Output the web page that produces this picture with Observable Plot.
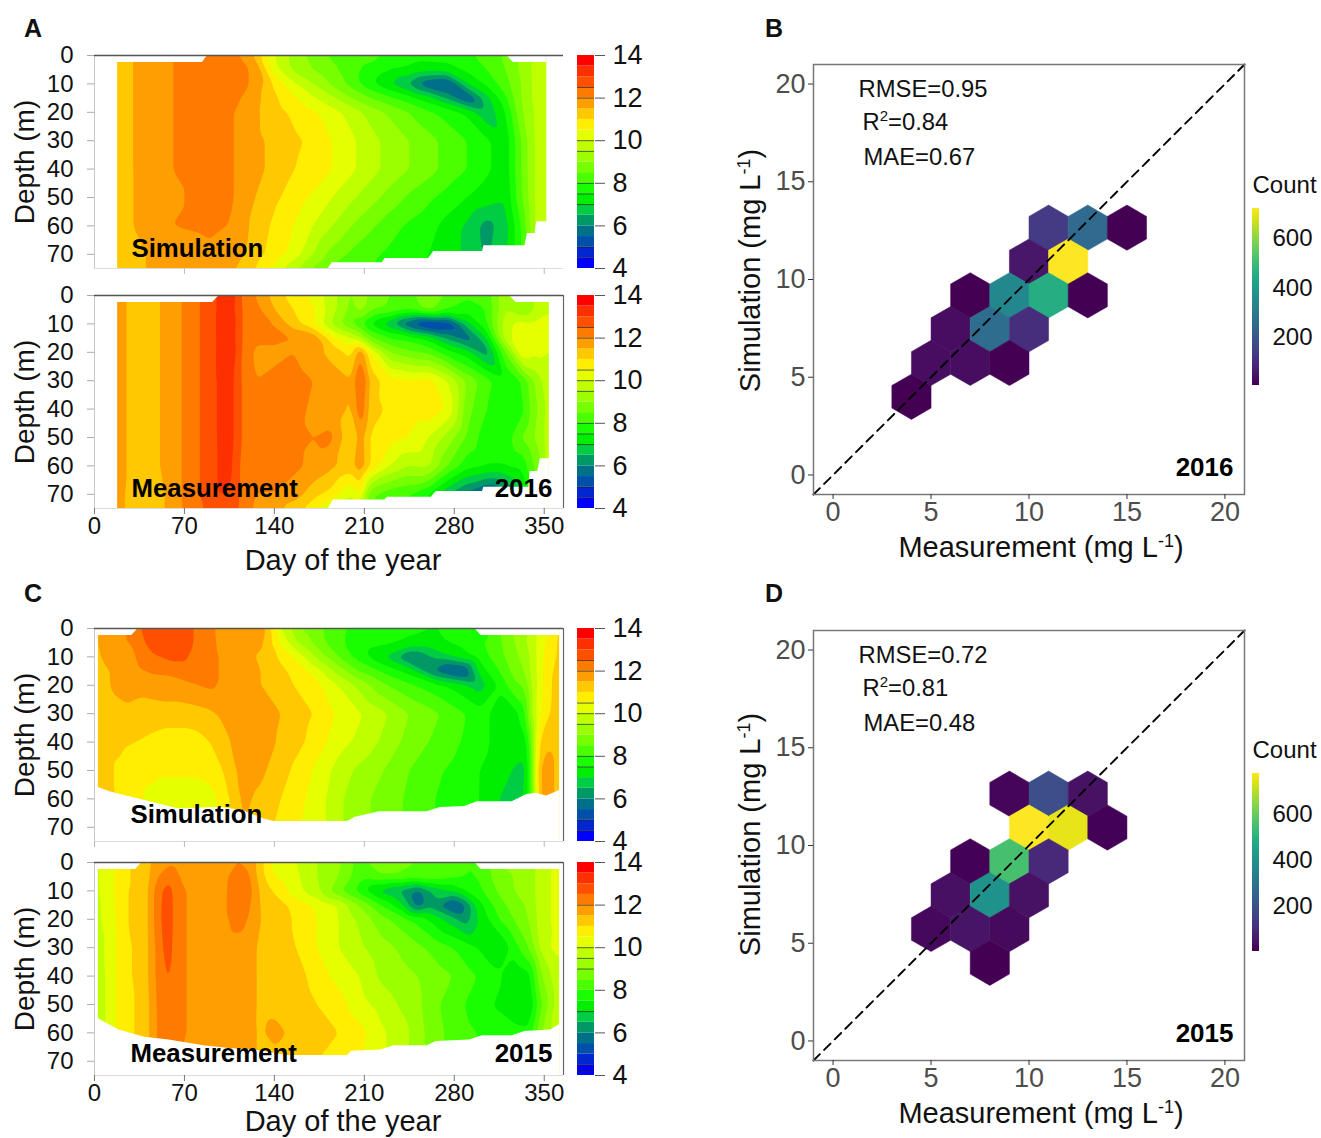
<!DOCTYPE html>
<html><head><meta charset="utf-8">
<script src="https://cdn.jsdelivr.net/npm/d3@7"></script>
<script src="https://cdn.jsdelivr.net/npm/@observablehq/plot@0.6"></script>
<style>
html,body{margin:0;padding:0;background:#fff}
#page{position:relative;width:1321px;height:1138px;overflow:hidden;font-family:"Liberation Sans",Arial,sans-serif;color:#111}
#page svg{position:absolute;overflow:visible;background:transparent}
.tag{position:absolute;font-weight:bold;font-size:25px;line-height:28px}
</style></head><body><div id="page"></div>
<script>
// ---------- shared levels ----------
const bandLower=[4,4.5,5,5.5,6,6.5,7,7.5,8,8.5,9,9.5,10,10.5,11,11.5,12,12.5,13,13.5];
const bandColors=["#0000ff","#0026d0","#0050aa","#006f88","#009966","#00cc44","#00ee00","#1aff00","#4cff00","#77ff00","#9cff00","#bfff00","#e6ff00","#ffee00","#ffc800","#ff9e00","#ff7b00","#ff5000","#ff3000","#ff0000"];
const depths=[0,5,10,15,20,30,40,50,60,70,75];
const depths15=[0,5,10,15,20,30,40,50,60,70];
const depthTicks=[0,10,20,30,40,50,60,70];
const dayTicks=[0,70,140,210,280,350];

// ---------- Panel A top: simulation 2016 ----------
const daysSim16=[18,30,60,90,110,125,140,155,170,185,200,215,230,245,260,275,290,305,320,332,342,352];
const sim16=[
[11.3,11.5,12,12.1,12.1,11.4,10.0,9.3,8.8,8.4,8.3,8.2,7.9,7.7,7.7,7.7,7.9,8.2,8.6,9.1,9.6,10.0],
[11.3,11.5,12,12.1,12.1,11.95,10.2,9.4,9.0,8.6,8.2,7.8,7.5,7.4,7.2,7.3,7.6,8.0,8.5,9.1,9.6,10.0],
[11.3,11.5,12,12.1,12.1,11.95,10.9,10.1,9.5,8.9,8.3,7.6,7.0,6.4,5.5,5.3,7.0,7.6,8.3,9.0,9.6,10.0],
[11.3,11.5,12,12.1,12.1,11.7,11.1,10.6,10.1,9.6,9.0,8.5,8.1,7.7,7.2,6.4,5.4,6.8,7.9,9,9.6,10],
[11.3,11.5,12,12.1,12.0,11.6,11.2,10.9,10.6,10.2,9.8,9.3,8.9,8.5,8.1,7.8,7.4,6.6,7.5,8.9,9.5,10],
[11.3,11.5,12,12.1,12.0,11.6,11.4,11.1,10.9,10.5,10.1,9.7,9.3,9.0,8.7,8.3,8.0,7.6,7.2,8.5,9.5,10],
[11.3,11.5,12,12.1,12.0,11.6,11.4,11.0,10.9,10.5,10.1,9.7,9.3,9.0,8.7,8.3,8.0,7.6,7.2,8.5,9.5,10],
[11.2,11.5,11.95,12.1,12.0,11.5,11.1,10.8,10.4,10.0,9.6,9.2,8.8,8.4,8.1,7.8,7.5,7.3,7.1,8.4,9.5,10],
[11.2,11.5,12,12.1,11.95,11.3,10.9,10.5,10.0,9.5,9.0,8.6,8.2,7.9,7.7,7.3,6.9,6.3,6.8,8,9.5,10],
[11.1,11.4,11.7,11.9,11.7,11.2,10.8,10.3,9.5,8.8,8.4,8.1,7.9,7.7,7.5,7.2,6.9,6.4,6.9,8,9,10],
[11.1,11.4,11.7,11.8,11.5,11.0,10.4,9.6,8.9,8.4,8.2,8,7.8,7.6,7.5,7.3,7,6.8,7,8,9,10]];
const topSim16=[[0,2.5],[84,2.5],[88,0],[321,0],[326,2.5],[352,2.5]];
const bottomSim16=[[0,75],[182,75],[185,73],[224,73],[226,71.5],[260,71.5],[264,69],[302,69],[303,67],[335,67],[337,62.7],[343,62.7],[344,58.5],[353,58.5]];
const barLinesA=[12.5,12,10,9.5,8,7.5,7,5,4.5];

// ---------- Panel A bottom: measurement 2016 ----------
const daysObs16=[18,32,52,68,82,95,105,114,125,140,155,170,185,200,207,215,230,245,260,275,290,305,320,332,342,352];
const obs16=[
[11.7,11.3,11.5,12,12.5,13,13.5,12.5,12.0,11.3,10.7,10.4,9.7,8.9,9.5,8.8,8.5,8.3,9,8.4,8.1,8.2,9.4,9,9.5,10],
[11.7,11.3,11.5,12,12.5,13,13.4,12.5,12.2,11.5,11,10.6,9.7,8.8,9.2,8.6,8.4,8.1,8.7,8.0,7.7,8.0,9.5,9,9.5,10],
[11.7,11.3,11.5,12,12.5,13,13.6,12.5,12.2,12.0,11.2,10.6,9.4,8.5,8.1,7.4,6.6,5.4,4.7,5.0,6.8,7.9,9.8,10.2,10.1,10],
[11.7,11.3,11.5,12,12.5,13,13.5,12.5,12.1,12.1,12.0,11.9,10.7,10.0,9.5,8.6,8,7.8,7.3,6.4,5.7,7,9.8,10.3,10.1,10],
[11.7,11.3,11.5,12,12.5,13,13.6,12.5,11.9,11.9,12,11.7,11.3,10.8,12,10.5,9,8.6,8.4,7.7,7.2,6.2,8.5,10.4,10.1,10],
[11.7,11.3,11.5,12,12.5,13,13.3,12.5,12,12.1,12.2,12,11.8,11.5,12.8,11.3,10.7,10.6,10.7,10,8.9,8.2,7.6,8,9.0,9.8],
[11.7,11.3,11.5,12,12.5,13,13.3,12.5,12,12.2,12.2,11.9,11.8,11.4,12.5,11.2,10.9,10.8,10.9,10.4,8.7,8,7.6,7.8,8.8,9.5],
[11.7,11.3,11.5,12,12.5,13,13.3,12.5,12,12.2,12.1,12,12.1,11,11.8,10.9,10.7,10.5,10,9.3,8.4,7.7,7.7,8.5,9,9.6],
[11.7,11.3,11.5,12,12.5,13,13.2,12.4,12.1,12.1,12.1,11.9,11.6,11.3,11.9,10.9,10,9.5,9.6,8.5,7.7,7.5,7.5,7.6,8.5,9.5],
[11.7,11.2,11.4,12,12.5,13,13,12.4,12,12,11.8,11.2,10.8,10,10.6,8.6,8.2,8,7.5,6.5,5.8,5.2,5.7,6.5,8,9.5],
[11.7,11.2,11.4,12,12.4,12.8,12.8,12.4,11.9,11.7,11.2,10.7,10,9.5,9.5,8.5,8,8,7.5,7,6.5,6.3,6.5,7,8,9.5]];
const topObs16=[[0,2.5],[92,2.5],[97,0],[323,0],[328,2.5],[354,2.5]];
const bottomObs16=[[0,75],[182,75],[186,72],[226,72],[228,71],[262,71],[266,69],[302,69],[303,67.5],[338,67.5],[339,62],[345,62],[347,57.5],[354,57.5]];
const barLinesA2=[12.5,12,10.5,10,9.5,8,7.5,7,5,4.5];

// ---------- Panel C top: simulation 2015 ----------
const daysSim15=[3,21,32,45,65,80,90,100,115,130,145,160,175,190,205,225,245,265,285,300,315,325,335,340,345,352,362];
const sim15=[
[11.7,11.8,12.3,12.9,12.9,12.4,12.2,11.7,11.8,11.8,10.0,9.0,8.6,8.1,7.9,7.7,7.6,7.5,7.5,7.6,8.5,9,9.4,9.7,10,10.4,11],
[11.7,11.9,12.1,12.8,12.9,12.4,12.2,11.8,11.8,11.6,10.4,9.4,8.7,8.1,7.8,7.6,7.4,7.4,7.6,7.9,8.4,8.9,9.4,9.7,10.1,10.6,11.1],
[11.5,11.7,12,12.4,12.7,12.3,12.2,11.9,11.7,11.4,10.9,10.2,9.3,8.5,7.8,7,5.9,6.6,7.2,7.7,8.3,8.8,9.2,9.6,10.1,10.7,11.1],
[11.4,11.6,11.9,12.05,12.1,12.2,12.2,11.9,11.7,11.5,11.1,10.8,10.1,9.3,8.5,7.9,7.3,5.9,5.2,7.2,8.0,8.6,9.0,9.6,10.1,10.8,11.2],
[11.4,11.6,11.7,11.8,11.9,12,12.1,11.9,11.7,11.5,11.2,10.9,10.6,10,9.4,8.6,8.1,7.7,7.2,6.7,7.6,8.3,8.6,9.5,10.1,10.8,11.3],
[11.3,11.4,11.3,11.2,11.2,11.3,11.4,11.6,11.8,11.8,11.5,11.2,10.9,10.4,10.1,9.6,9,8.6,8.1,7.7,7.3,7.2,7.8,9.5,10.2,10.9,11.3],
[11.2,11.1,11,10.9,10.8,10.8,11,11.3,11.8,11.8,11.4,11.1,10.7,10.2,9.9,9.4,8.8,8.4,8,7.7,7.3,7.1,7.2,8.5,10.9,11.4,11.2],
[11.2,10.9,10.6,10.6,10.6,10.6,10.7,11,11.7,11.6,11.2,10.8,10.3,9.8,9.4,9,8.5,8.1,7.8,7.5,7.2,7,6.8,8.2,11.3,11.9,11.2],
[11.3,10.9,10.6,10.4,10.2,10.2,10.3,10.7,11.6,11.4,11,10.6,10.2,9.6,9.2,8.8,8.4,8,7.7,7.5,7,6.8,7,8,11.2,11.9,11.2],
[11.3,10.9,10.6,10.4,10.2,10.2,10.3,10.6,11.5,11.3,10.8,10.5,10.2,9.6,9.2,8.8,8.4,8,7.7,7.5,7,6.8,7,8,11.2,11.9,11.2]];
const topSim15=[[0,2.5],[29,2.5],[34,0],[296,0],[301,2.5],[362,2.5]];
const bottomSim15=[[0,56],[3,56],[12,57.5],[21,58.5],[52,62],[65,63.5],[98,63],[115,64],[131,67],[140,68],[197,68],[203,66.5],[222,64.5],[259,64.5],[269,63],[288,62.7],[298,61],[325,61],[336,58.5],[343,58],[352,59],[362,57]];
const barLinesC=[12.5,12,10.5,10,9.5,8,7.5,5,4.5];

// ---------- Panel C bottom: measurement 2015 ----------
const daysObs15=[3,12,22,40,47,57,65,85,101,112,122,128,141,157,173,190,206,223,240,252,262,279,288,298,315,326,338,348,362];
const obs15=[
[10.2,10.3,10.9,11.2,11.7,11.9,11.9,11.8,11.8,12.0,11.8,11.3,10.2,10.0,9.5,9.1,8.3,8.9,8.6,8.5,8.5,8.2,8.0,8.0,9,9.1,9.2,9.8,10.2],
[10.2,10.3,10.9,11.2,11.9,12.3,12,11.8,11.9,12.3,12,11.3,10.5,10.1,9.5,9,8.2,8.4,8.4,8.3,8.3,8.1,8,8,8.8,9,9.2,9.8,10.2],
[10.2,10.3,10.9,11.3,12.1,12.8,12.1,11.8,11.9,12.4,12.1,11.5,10.9,10.2,9.6,8.6,7.8,6.8,6.3,5.8,6.5,7,7.5,7.8,8.6,9,9.2,9.8,10.2],
[10,10.3,10.9,11.3,12.1,12.9,12.1,11.8,11.9,12.4,12,11.5,11.3,10.8,10.4,10,9,8,7,5.7,6.3,5.3,5.9,7.2,8.3,8.7,9.1,9.8,10.2],
[10,10.2,10.9,11.3,12.1,12.9,12.1,11.8,11.9,12.2,11.9,11.5,11.4,10.9,10.5,10,9.4,8.7,8.2,7.8,7.4,6.7,6.2,7,8,8.5,9,9.8,10.2],
[9.8,10.2,10.8,11.3,12.0,12.8,12.1,11.8,11.8,11.8,11.7,11.4,11.3,11,10.5,10,9.6,9.2,8.9,8.6,8.4,8,7.8,7.5,7,7.7,8.5,9.7,10.3],
[9.7,10.2,10.8,11.3,12.0,12.6,12.1,11.8,11.8,11.7,11.7,11.4,11.3,11.2,10.8,10.3,10,9.4,9.1,9,8.8,8.5,8.2,8,7.6,7,7.3,9,10],
[9.7,10.2,10.8,11.2,12.0,12.3,12.1,11.8,11.8,11.7,11.7,11.4,11.4,11.3,11,10.7,10.2,9.8,9.4,9.1,8.7,8.2,8.0,7.8,7.4,7.1,7,8.5,9.9],
[9.7,10.2,10.8,11.2,12.0,12.2,12.1,11.8,11.7,11.7,11.6,11.45,11.6,11.4,11.3,11,10.7,10.1,9.7,9.2,8.8,8.3,8.1,8,7.8,7.7,7.6,9,9.9],
[9.7,10.2,10.8,11.2,12,12.2,12,11.8,11.7,11.7,11.6,11.45,11.4,11.2,11,10.7,10.6,10.1,9.7,9.2,8.8,8.3,8.1,8,7.8,7.7,7.6,9,9.9]];
const topObs15=[[0,2.5],[32,2.5],[37,0],[296,0],[301,2.5],[362,2.5]];
const bottomObs15=[[0,55],[3,55],[19,59],[39,61.5],[58,62.5],[85,64.5],[105,65.5],[125,66],[150,68],[197,68],[200,66.5],[223,66],[233,64.5],[259,64.5],[266,63],[292,62.5],[302,61],[325,61],[335,59.5],[355,59],[362,57]];
const barLinesC2=[12,10,9.5,9,7,4.5,4.2];

// ---------- hexbin panels ----------
const hexXB=[11,13,15,10,12,7,9,11,13,6,8,10,5,7,9,4];
const hexYB=[12.65,12.65,12.65,10.92,10.92,9.19,9.19,9.19,9.19,7.46,7.46,7.46,5.73,5.73,5.73,4];
const hexCountB=[130,250,8,50,721,8,340,450,8,30,260,100,30,30,8,8];
const hexXD=[9,11,13,10,12,14,7,9,11,6,8,10,5,7,9,8];
const hexYD=[12.65,12.65,12.65,10.92,10.92,10.92,9.19,9.19,9.19,7.46,7.46,7.46,5.73,5.73,5.73,4];
const hexCountD=[15,190,40,778,750,8,8,550,90,35,400,40,22,45,25,6];
const diagonal=[-1,21];
const hexTicks=[0,5,10,15,20];

const page=document.getElementById("page");
const FONT='"Liberation Sans",Arial,sans-serif';
const colorScale={type:"threshold",domain:bandLower.slice(1),range:bandColors};

function place(svg,left,top){svg.style.left=left+"px";svg.style.top=top+"px";page.appendChild(svg);}
function toPoints(days,deps,rows){return rows.flatMap((r,i)=>r.map((v,j)=>({day:days[j],depth:deps[i],v})));}
function edge(pairs){return pairs.map(([day,depth])=>({day,depth}));}

// Real superscripts inside already-rendered Plot text labels.
function superscript(svg,whole,parts){
  svg.querySelectorAll("text").forEach(t=>{
    if(t.textContent!==whole) return;
    t.textContent="";
    let shift=0;
    parts.forEach(([s,up,size])=>{
      const ts=document.createElementNS("http://www.w3.org/2000/svg","tspan");
      ts.textContent=s;
      const target=up?-up:0;
      ts.setAttribute("dy",target-shift); shift=target;
      if(size) ts.setAttribute("font-size",size);
      t.appendChild(ts);
    });
  });
}

function contourPanel(o){
  const x0=94,x1=563,mt=10;
  const W=x1+10, H=mt+213+(o.xlabels?75:14);
  const [sx,ex]=o.span;
  const marks=[
    Plot.contour(toPoints(o.days,o.deps,o.rows),{x:"day",y:"depth",fill:"v",interpolate:"barycentric",thresholds:bandLower,stroke:"none",blur:1,clip:true}),
    Plot.rect([{a:-1,b:sx},{a:ex,b:366}],{x1:"a",x2:"b",y1:()=>0,y2:()=>75,fill:"white",clip:true}),
    Plot.areaY(edge(o.top),{x:"day",y1:()=>0,y2:"depth",fill:"white",clip:true}),
    Plot.areaY(edge(o.bottom),{x:"day",y1:"depth",y2:()=>75,fill:"white",clip:true}),
    Plot.ruleX([0],{stroke:"#c8c8c8"}),
    Plot.ruleY([75],{stroke:"#dcdcdc"}),
    Plot.ruleY([0],{stroke:"#555",strokeWidth:1.3})
  ];
  if(o.rightLine) marks.push(Plot.ruleX([365],{stroke:"#666",strokeWidth:1.2}));
  marks.push(
    Plot.axisY({ticks:depthTicks,tickSize:7,tickPadding:14,fontSize:24,color:"#111",stroke:"#aaa",label:null,tickFormat:d=>d}),
    Plot.axisX({ticks:o.ticks,tickSize:6,tickPadding:2,fontSize:24,color:"#111",stroke:o.xlabels?"#777":"#bbb",label:null,tickFormat:o.xlabels?(d=>d):(()=>"")}),
    Plot.text([o.name],{frameAnchor:"bottom-left",dx:o.nameDx,dy:o.nameDy,textAnchor:"start",lineAnchor:"middle",fontSize:25.8,fontWeight:"bold",fill:"#000"}),
    Plot.text(["Depth (m)"],{frameAnchor:"left",rotate:-90,dx:-69,fontSize:28,fill:"#111",textAnchor:"middle",lineAnchor:"middle"})
  );
  if(o.year) marks.push(Plot.text([o.year],{frameAnchor:"bottom-right",dx:-11,dy:o.nameDy,textAnchor:"end",lineAnchor:"middle",fontSize:26,fontWeight:"bold",fill:"#000"}));
  if(o.xlabels) marks.push(Plot.text(["Day of the year"],{frameAnchor:"bottom",dx:14,dy:o.titleDy,textAnchor:"middle",lineAnchor:"middle",fontSize:29,fill:"#111"}));
  const svg=Plot.plot({width:W,height:H,marginLeft:x0,marginRight:10,marginTop:mt,marginBottom:H-mt-213,
    style:{fontFamily:FONT,background:"transparent",overflow:"visible"},
    x:{domain:[0,365]},y:{domain:[0,75],reverse:true},color:colorScale,marks});
  place(svg,0,o.y-mt);
}

function colorBar(y,lines){
  const mt=10;
  const bands=bandLower.map((lo,i)=>({lo,hi:lo+0.5}));
  const svg=Plot.plot({width:80,height:213+2*mt,marginLeft:10,marginRight:53,marginTop:mt,marginBottom:mt,
    style:{fontFamily:FONT,background:"transparent",overflow:"visible"},
    x:{domain:[0,1],axis:null},y:{domain:[4,14]},color:colorScale,
    marks:[
      Plot.rect(bands,{x1:()=>0,x2:()=>1,y1:"lo",y2:"hi",fill:"lo"}),
      Plot.ruleY(lines,{stroke:"#222",strokeOpacity:.7,strokeWidth:1}),
      Plot.axisY({anchor:"right",ticks:[4,6,8,10,12,14],tickSize:10,tickPadding:8,fontSize:27,color:"#111",stroke:"#555",label:null,tickFormat:d=>d})
    ]});
  place(svg,567,y-mt);
}

function hexPanel(o){
  const mt=54, F=430;
  const data=o.xs.map((x,i)=>({x,y:o.ys[i],n:o.counts[i]}));
  const svg=Plot.plot({width:591,height:mt+F+76,marginLeft:83,marginRight:77,marginTop:mt,marginBottom:76,
    style:{fontFamily:FONT,background:"transparent",overflow:"visible"},
    x:{domain:[-1,21]},y:{domain:[-1,21]},
    color:{type:"linear",scheme:"viridis",domain:o.range},
    marks:[
      Plot.hexagon(data,{x:"x",y:"y",fill:"n",stroke:"n",strokeWidth:.5,r:19.6}),
      Plot.line(diagonal.map(v=>({v})),{x:"v",y:"v",stroke:"#000",strokeWidth:1.9,strokeDasharray:"9,6"}),
      Plot.frame({stroke:"#777",strokeWidth:1.5}),
      Plot.axisX({ticks:hexTicks,tickSize:5,tickPadding:2,fontSize:27,color:"#4d4d4d",stroke:"#333",label:null}),
      Plot.axisY({ticks:hexTicks,tickSize:5,tickPadding:3,fontSize:27,color:"#4d4d4d",stroke:"#333",label:null}),
      Plot.text([o.rmse],{frameAnchor:"top-left",dx:45,dy:25,textAnchor:"start",lineAnchor:"middle",fontSize:23.8,fill:"#111"}),
      Plot.text([o.r2],{frameAnchor:"top-left",dx:49,dy:58,textAnchor:"start",lineAnchor:"middle",fontSize:23.8,fill:"#111"}),
      Plot.text([o.mae],{frameAnchor:"top-left",dx:50,dy:93,textAnchor:"start",lineAnchor:"middle",fontSize:23.8,fill:"#111"}),
      Plot.text([o.year],{frameAnchor:"bottom-right",dx:-11,dy:-27,textAnchor:"end",lineAnchor:"middle",fontSize:26,fontWeight:"bold",fill:"#000"}),
      Plot.text(["Measurement (mg L-1)"],{frameAnchor:"bottom",dx:12,dy:53,textAnchor:"middle",lineAnchor:"middle",fontSize:29,fill:"#111"}),
      Plot.text(["Simulation (mg L-1)"],{frameAnchor:"left",rotate:-90,dx:-63,dy:o.simDy,textAnchor:"middle",lineAnchor:"middle",fontSize:29,fill:"#111"})
    ]});
  superscript(svg,"Measurement (mg L-1)",[["Measurement (mg L",0],["-1",10,18],[")",0]]);
  superscript(svg,"Simulation (mg L-1)",[["Simulation (mg L",0],["-1",10,18],[")",0]]);
  superscript(svg,o.r2,[["R",0],["2",9,15],[o.r2.slice(2),0]]);
  place(svg,730,o.top-mt);
}

function countLegend(o){
  const mt=10,h=o.bottom-o.top;
  const steps=d3.range(o.range[0],o.range[1],5).map(v=>({v,w:Math.min(v+5,o.range[1])}));
  const svg=Plot.plot({width:90,height:h+2*mt,marginLeft:10,marginRight:73,marginTop:mt,marginBottom:mt,
    style:{fontFamily:FONT,background:"transparent",overflow:"visible"},
    x:{domain:[0,1],axis:null},y:{domain:o.range},
    color:{type:"linear",scheme:"viridis",domain:o.range},
    marks:[
      Plot.rect(steps,{x1:()=>0,x2:()=>1,y1:"v",y2:"w",fill:"v",shapeRendering:"crispEdges"}),
      Plot.axisY({anchor:"right",ticks:[200,400,600],tickSize:0,tickPadding:13,fontSize:24,color:"#111",label:null,tickFormat:d=>d}),
      Plot.text(["Count"],{frameAnchor:"top-left",dy:-23,textAnchor:"start",lineAnchor:"middle",fontSize:24,fill:"#111"})
    ]});
  place(svg,1242,o.top-mt);
}

contourPanel({y:55,days:daysSim16,deps:depths,rows:sim16,span:[18,352],top:topSim16,bottom:bottomSim16,ticks:[70,210,350],name:"Simulation",nameDx:37,nameDy:-20,xlabels:false,rightLine:false});
contourPanel({y:295,days:daysObs16,deps:depths,rows:obs16,span:[18,354],top:topObs16,bottom:bottomObs16,ticks:dayTicks,name:"Measurement",nameDx:37,nameDy:-20,year:"2016",xlabels:true,rightLine:true,titleDy:52});
contourPanel({y:628,days:daysSim15,deps:depths15,rows:sim15,span:[3,362],top:topSim15,bottom:bottomSim15,ticks:dayTicks,name:"Simulation",nameDx:36,nameDy:-27,xlabels:false,rightLine:true});
contourPanel({y:862,days:daysObs15,deps:depths15,rows:obs15,span:[3,362],top:topObs15,bottom:bottomObs15,ticks:dayTicks,name:"Measurement",nameDx:36,nameDy:-22,year:"2015",xlabels:true,rightLine:true,titleDy:46});

colorBar(55,barLinesA);colorBar(295,barLinesA2);colorBar(628,barLinesC);colorBar(862,barLinesC2);

hexPanel({top:64,simDy:-9,xs:hexXB,ys:hexYB,counts:hexCountB,range:[6,721],rmse:"RMSE=0.95",r2:"R2=0.84",mae:"MAE=0.67",year:"2016"});
hexPanel({top:630,simDy:-11,xs:hexXD,ys:hexYD,counts:hexCountD,range:[4,778],rmse:"RMSE=0.72",r2:"R2=0.81",mae:"MAE=0.48",year:"2015"});
countLegend({top:208,bottom:385,range:[6,721]});
countLegend({top:773,bottom:951,range:[4,778]});

[["A",24,14],["B",765,14],["C",24,579],["D",765,579]].forEach(([t,l,y])=>{
  const d=document.createElement("div");d.className="tag";d.textContent=t;d.style.left=l+"px";d.style.top=y+"px";page.appendChild(d);
});
</script></body></html>
